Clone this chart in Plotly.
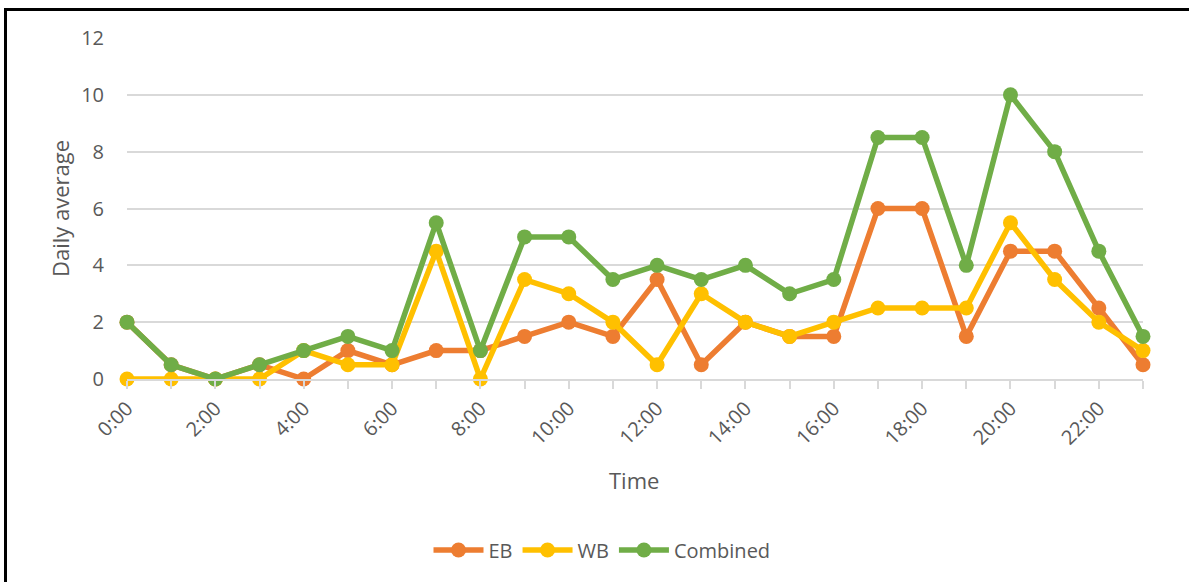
import plotly.graph_objects as go

times = [f"{h}:00" for h in range(24)]
tick_labels = [t if i % 2 == 0 else "" for i, t in enumerate(times)]
eb = [2, 0.5, 0, 0.5, 0, 1, 0.5, 1, 1, 1.5, 2, 1.5, 3.5, 0.5, 2, 1.5, 1.5, 6, 6, 1.5, 4.5, 4.5, 2.5, 0.5]
wb = [0, 0, 0, 0, 1, 0.5, 0.5, 4.5, 0, 3.5, 3, 2, 0.5, 3, 2, 1.5, 2, 2.5, 2.5, 2.5, 5.5, 3.5, 2, 1]
combined = [2, 0.5, 0, 0.5, 1, 1.5, 1, 5.5, 1, 5, 5, 3.5, 4, 3.5, 4, 3, 3.5, 8.5, 8.5, 4, 10, 8, 4.5, 1.5]

series = [("EB", eb, "#ED7D31"), ("WB", wb, "#FFC000"), ("Combined", combined, "#70AD47")]

fig = go.Figure()
for name, vals, col in series:
    fig.add_trace(go.Scatter(
        x=times, y=vals, name=name, mode="lines+markers",
        line=dict(color=col, width=5.5),
        marker=dict(color=col, size=15),
        cliponaxis=False,
    ))

W, H = 1189, 582
L, R, T, B = 127, 46, 38, 203
pw = W - L - R
ph = H - T - B

def px_x(x):
    return (x - L) / pw

def px_y(y):
    return (H - B - y) / ph

font_family = "Open Sans, Arial, sans-serif"
grey = "#595959"

fig.update_layout(
    width=W, height=H,
    margin=dict(l=L, r=R, t=T, b=B),
    paper_bgcolor="white", plot_bgcolor="white",
    font=dict(family=font_family, color=grey, size=20),
    showlegend=True,
    legend=dict(orientation="h", x=px_x(602), y=px_y(550), xanchor="center", yanchor="middle",
                font=dict(size=20, color=grey), itemwidth=50),
    xaxis=dict(
        type="category", range=[0, 23],
        tickmode="array", tickvals=times, ticktext=tick_labels,
        tickangle=-45, showgrid=False,
        showline=True, linecolor="#D9D9D9", linewidth=1.5,
        ticks="outside", ticklen=8, tickcolor="#D9D9D9", tickwidth=1.5,
        tickfont=dict(size=20, color=grey),
    ),
    yaxis=dict(
        range=[0, 12], tickvals=[0, 2, 4, 6, 8, 10, 12],
        showgrid=True, gridcolor="#D9D9D9", gridwidth=1.5,
        zeroline=False, showline=False, ticks="",
        ticklabelstandoff=22,
        tickfont=dict(size=20, color=grey),
    ),
    annotations=[
        dict(text="Time", xref="paper", yref="paper", x=px_x(634), y=px_y(480),
             xanchor="center", yanchor="middle", showarrow=False,
             font=dict(size=22, color=grey)),
        dict(text="Daily average", xref="paper", yref="paper", x=px_x(60), y=px_y(209),
             xanchor="center", yanchor="middle", showarrow=False, textangle=-90,
             font=dict(size=22, color=grey)),
    ],
    shapes=[
        dict(type="line", xref="paper", yref="paper",
             x0=px_x(4), x1=px_x(1189), y0=px_y(9.5), y1=px_y(9.5),
             line=dict(color="black", width=3), layer="above"),
        dict(type="line", xref="paper", yref="paper",
             x0=px_x(5.5), x1=px_x(5.5), y0=px_y(8), y1=px_y(582),
             line=dict(color="black", width=3), layer="above"),
    ],
)

fig.write_html(
    "out.html",
    config={"displayModeBar": False},
    post_script=(
        "document.documentElement.style.margin='0';"
        "document.documentElement.style.overflow='hidden';"
        "document.body.style.margin='0';document.body.style.overflow='hidden';"
    ),
)
